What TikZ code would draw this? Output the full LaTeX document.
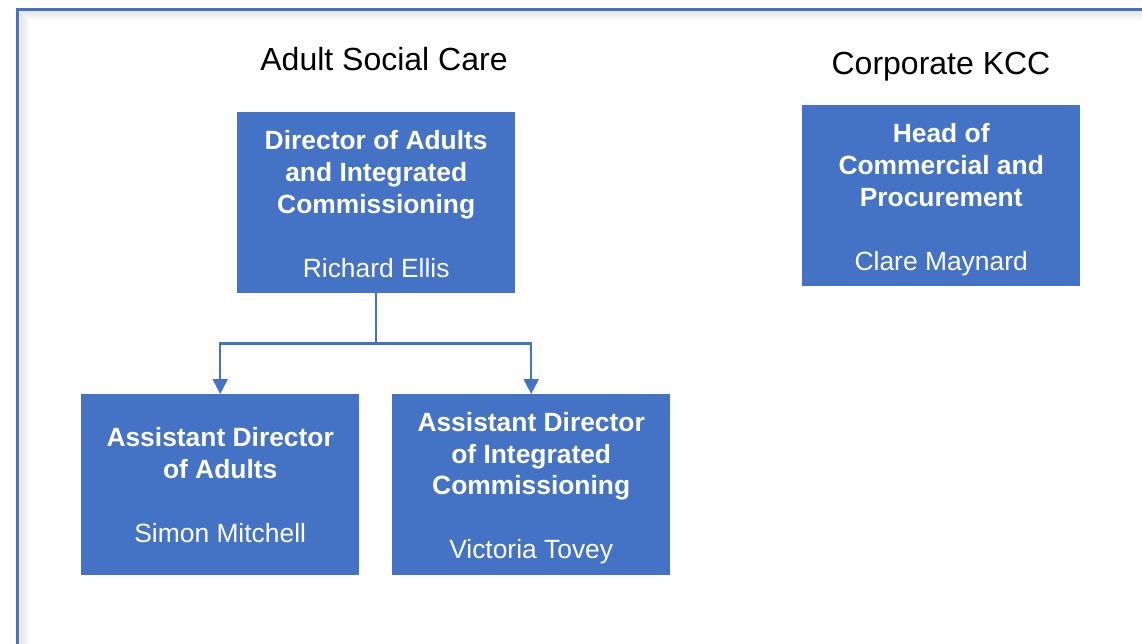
\documentclass[tikz,border=0pt]{standalone}
\usepackage{fontspec}
\setmainfont{Liberation Sans}
\usetikzlibrary{arrows.meta,calc}
\definecolor{boxblue}{HTML}{4472C4}
\newcommand{\toppad}[1]{\rule{0pt}{#1pt}}
\begin{document}
\begin{tikzpicture}[x=1pt,y=-1pt,
  orgbox/.style={fill=boxblue, text=white, minimum width=278pt, minimum height=181pt,
    inner sep=0pt, align=center, anchor=north west,
    font=\fontsize{26.4}{31.8}\selectfont\bfseries},
  title/.style={anchor=base, font=\fontsize{32}{38}\selectfont, text=black},
  link/.style={draw=boxblue, line width=2.2pt},
  arrowlink/.style={link, -{Triangle[width=15pt,length=15pt]}}]
\useasboundingbox (0,0) rectangle (1142,644);
\fill[white] (0,0) rectangle (1142,644);
% inner shadow of frame
\foreach \i/\op in {1/0.10,2/0.09,3/0.08,4/0.07,5/0.06,6/0.05,7/0.04,8/0.03,9/0.02,10/0.01}{
  \draw[black, opacity=\op, line width=1pt] (19+\i,644) -- (19+\i,11+\i) -- (1142,11+\i);
}
\draw[draw=boxblue, line width=3pt] (17.5,644) -- (17.5,9.5) -- (1142,9.5);
% titles
\node[title] (asc) at (384,71) {Adult Social Care};
\node[title] (kcc) at (941,75) {Corporate KCC};
% boxes
\node[orgbox] (dir) at (237,112) {\toppad{22}Director of Adults\\and Integrated\\Commissioning\\[31.8pt]{\mdseries Richard Ellis}};
\node[orgbox] (head) at (802,105) {\toppad{27}Head of\\Commercial and\\Procurement\\[31.8pt]{\mdseries Clare Maynard}};
\node[orgbox] (ada) at (81,394) {\toppad{20}Assistant Director\\of Adults\\[31.8pt]{\mdseries Simon Mitchell}};
\node[orgbox] (adi) at (392,394) {\toppad{26}Assistant Director\\of Integrated\\Commissioning\\[31.8pt]{\mdseries Victoria Tovey}};
% connectors
\coordinate (split) at ($(dir.south)+(0,50)$);
\draw[link] (dir.south) -- (split);
\draw[arrowlink] (split) -| (ada.north);
\draw[arrowlink] (split) -| (adi.north);
\end{tikzpicture}
\end{document}
